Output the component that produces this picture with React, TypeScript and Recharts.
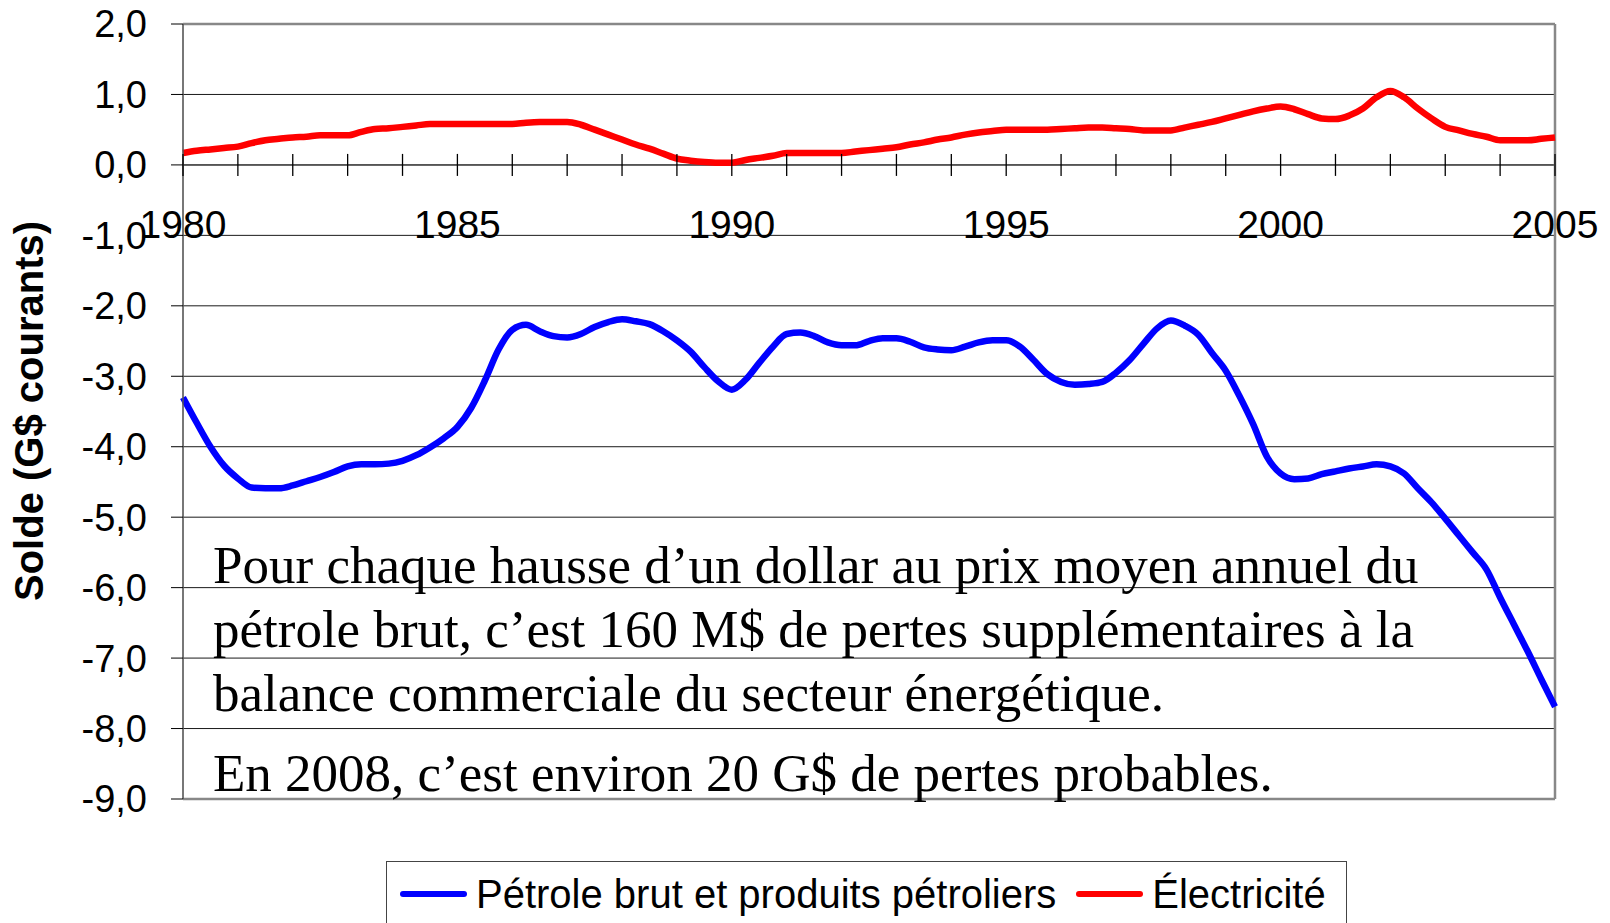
import React from "react";
import { LineChart, Line, XAxis, YAxis, CartesianGrid, ReferenceLine, Legend } from "recharts";

const SANS = '"Liberation Sans", Arial, sans-serif';
const SERIF = '"Liberation Serif", "Times New Roman", serif';

const WIDTH = 1610;
const HEIGHT = 923;
const X_AXIS_H = 1;
const MARGIN = { top: 24, right: 55, bottom: 124 - X_AXIS_H, left: 0 };
const Y_MIN = -9;
const Y_MAX = 2;

// quarterly points, 1980 Q1 .. 2005 Q1
const quarters = Array.from({ length: 101 }, (_, i) => 1980 + i / 4);

const petrole = [
  -3.3, -3.66, -4.0, -4.27,
  -4.45, -4.58, -4.59, -4.59,
  -4.55, -4.49, -4.43, -4.36,
  -4.28, -4.25, -4.25, -4.24,
  -4.2, -4.12, -4.01, -3.88,
  -3.72, -3.45, -3.06, -2.62,
  -2.34, -2.27, -2.36, -2.43,
  -2.45, -2.4, -2.3, -2.23,
  -2.19, -2.22, -2.26, -2.36,
  -2.49, -2.65, -2.87, -3.07,
  -3.19, -3.05, -2.81, -2.58,
  -2.4, -2.38, -2.43, -2.52,
  -2.56, -2.56, -2.5, -2.46,
  -2.46, -2.51, -2.59, -2.62,
  -2.63, -2.58, -2.52, -2.49,
  -2.49, -2.58, -2.77, -2.97,
  -3.08, -3.12, -3.11, -3.08,
  -2.95, -2.77, -2.54, -2.32,
  -2.21, -2.28, -2.41, -2.67,
  -2.92, -3.28, -3.68, -4.14,
  -4.38, -4.46, -4.45, -4.39,
  -4.35, -4.31, -4.28, -4.25,
  -4.28, -4.38, -4.59, -4.79,
  -5.02, -5.26, -5.5, -5.74,
  -6.14, -6.52, -6.9, -7.3,
  -7.69,
];

const electricite = [
  0.17, 0.2, 0.22, 0.24,
  0.26, 0.31, 0.35, 0.37,
  0.39, 0.4, 0.42, 0.42,
  0.42, 0.47, 0.51, 0.52,
  0.54, 0.56, 0.58, 0.58,
  0.58, 0.58, 0.58, 0.58,
  0.58, 0.6, 0.61, 0.61,
  0.61, 0.57, 0.5, 0.43,
  0.36, 0.29, 0.23, 0.16,
  0.09, 0.06, 0.04, 0.03,
  0.03, 0.07, 0.1, 0.13,
  0.17, 0.17, 0.17, 0.17,
  0.17, 0.19, 0.21, 0.23,
  0.25, 0.29, 0.32, 0.36,
  0.39, 0.43, 0.46, 0.48,
  0.5, 0.5, 0.5, 0.5,
  0.51, 0.52, 0.53, 0.53,
  0.52, 0.51, 0.49, 0.49,
  0.49, 0.53, 0.57, 0.61,
  0.66, 0.71, 0.76, 0.8,
  0.83, 0.79, 0.72, 0.66,
  0.65, 0.7, 0.8, 0.96,
  1.05, 0.96, 0.8, 0.66,
  0.54, 0.49, 0.44, 0.4,
  0.35, 0.35, 0.35, 0.37,
  0.39,
];

const yearTicks = [
  1980, 1981, 1982, 1983, 1984, 1985, 1986, 1987, 1988, 1989, 1990, 1991, 1992,
  1993, 1994, 1995, 1996, 1997, 1998, 1999, 2000, 2001, 2002, 2003, 2004, 2005,
];
const yearLabels = [1980, 1985, 1990, 1995, 2000, 2005];
const valueTicks = [-9, -8, -7, -6, -5, -4, -3, -2, -1, 0, 1, 2];

const noteLines = [
  "Pour chaque hausse d’un dollar au prix moyen annuel du",
  "pétrole brut, c’est 160 M$ de pertes supplémentaires à la",
  "balance commerciale du secteur énergétique.",
];
const noteLast = "En 2008, c’est environ 20 G$ de pertes probables.";

const data = quarters.map((t, i) => ({
  t,
  petrole: petrole[i],
  electricite: electricite[i],
}));

const plotHeight = HEIGHT - MARGIN.top - MARGIN.bottom - X_AXIS_H;
// the year axis crosses at 0, not at the bottom of the plot
const zeroY = MARGIN.top + (plotHeight * Y_MAX) / (Y_MAX - Y_MIN);

function YearTick(props: any) {
  const { x, payload } = props;
  const yr = payload.value;
  return (
    <g>
      <line x1={x} x2={x} y1={zeroY - 11} y2={zeroY + 11} stroke="#000" strokeWidth={1.3} />
      {yearLabels.includes(yr) && (
        <text x={x} y={zeroY + 73} textAnchor="middle" fontSize={39} fontFamily={SANS} fill="#000">
          {yr}
        </text>
      )}
    </g>
  );
}

function AxisTitle() {
  return (
    <text
      x={43}
      y={411}
      transform="rotate(-90 43 411)"
      textAnchor="middle"
      fontSize={40}
      fontWeight="bold"
      fontFamily={SANS}
      fill="#000"
    >
      Solde (G$ courants)
    </text>
  );
}

function LegendBox(props: any) {
  const items = props.payload || [];
  return (
    <div
      style={{
        display: "flex",
        alignItems: "flex-start",
        border: "1px solid #444",
        padding: "12px 20px 0 13px",
        height: 80,
        boxSizing: "border-box",
        background: "#fff",
        fontFamily: SANS,
        fontSize: 40,
        lineHeight: "40px",
        color: "#000",
        whiteSpace: "nowrap",
      }}
    >
      {items.map((it: any, i: number) => (
        <div key={i} style={{ display: "flex", alignItems: "center", height: 40, marginLeft: i ? 20 : 0 }}>
          <div style={{ width: 67, height: 6, borderRadius: 3, background: it.color, marginRight: 9 }} />
          <span>{it.value}</span>
        </div>
      ))}
    </div>
  );
}

export default function App() {
  return (
    <div style={{ position: "absolute", left: 0, top: 0, width: WIDTH, height: HEIGHT, background: "#fff" }}>
      <LineChart width={WIDTH} height={HEIGHT} data={data} margin={MARGIN}>
        <CartesianGrid horizontal vertical={false} stroke="#1a1a1a" strokeWidth={1} />
        <XAxis
          dataKey="t"
          type="number"
          domain={[1980, 2005]}
          ticks={yearTicks}
          interval={0}
          height={X_AXIS_H}
          axisLine={false}
          tickLine={false}
          tickSize={0}
          tickMargin={0}
          tick={<YearTick />}
        />
        <YAxis
          type="number"
          domain={[Y_MIN, Y_MAX]}
          ticks={valueTicks}
          interval={0}
          width={183}
          tickSize={12}
          tickMargin={24}
          tickLine={{ stroke: "#000" }}
          axisLine={{ stroke: "#555", strokeWidth: 1.6 }}
          tick={{ fontSize: 38, fill: "#000", fontFamily: SANS }}
          tickFormatter={(v: number) => v.toFixed(1).replace(".", ",")}
          label={<AxisTitle />}
        />
        <ReferenceLine y={0} stroke="#555" strokeWidth={1.6} />
        <ReferenceLine y={Y_MAX} stroke="#888" strokeWidth={2.5} />
        <ReferenceLine y={Y_MIN} stroke="#888" strokeWidth={2.5} />
        <ReferenceLine x={2005} stroke="#888" strokeWidth={2.5} />
        <Line
          dataKey="petrole"
          name="Pétrole brut et produits pétroliers"
          stroke="#0000ff"
          strokeWidth={6.5}
          type="monotone"
          dot={false}
          activeDot={false}
          isAnimationActive={false}
        />
        <Line
          dataKey="electricite"
          name="Électricité"
          stroke="#ff0000"
          strokeWidth={6.5}
          type="monotone"
          dot={false}
          activeDot={false}
          isAnimationActive={false}
        />
        <Legend
          layout="horizontal"
          align="center"
          verticalAlign="middle"
          wrapperStyle={{ left: 386, top: 861, width: "auto", height: 80 }}
          content={<LegendBox />}
        />
      </LineChart>
      <div
        style={{
          position: "absolute",
          left: 213,
          top: 533,
          fontFamily: SERIF,
          fontSize: 53,
          lineHeight: "64px",
          color: "#000",
          whiteSpace: "pre",
          pointerEvents: "none",
        }}
      >
        {noteLines.map((l, i) => (
          <div key={i}>{l}</div>
        ))}
        <div style={{ marginTop: 16 }}>{noteLast}</div>
      </div>
    </div>
  );
}
